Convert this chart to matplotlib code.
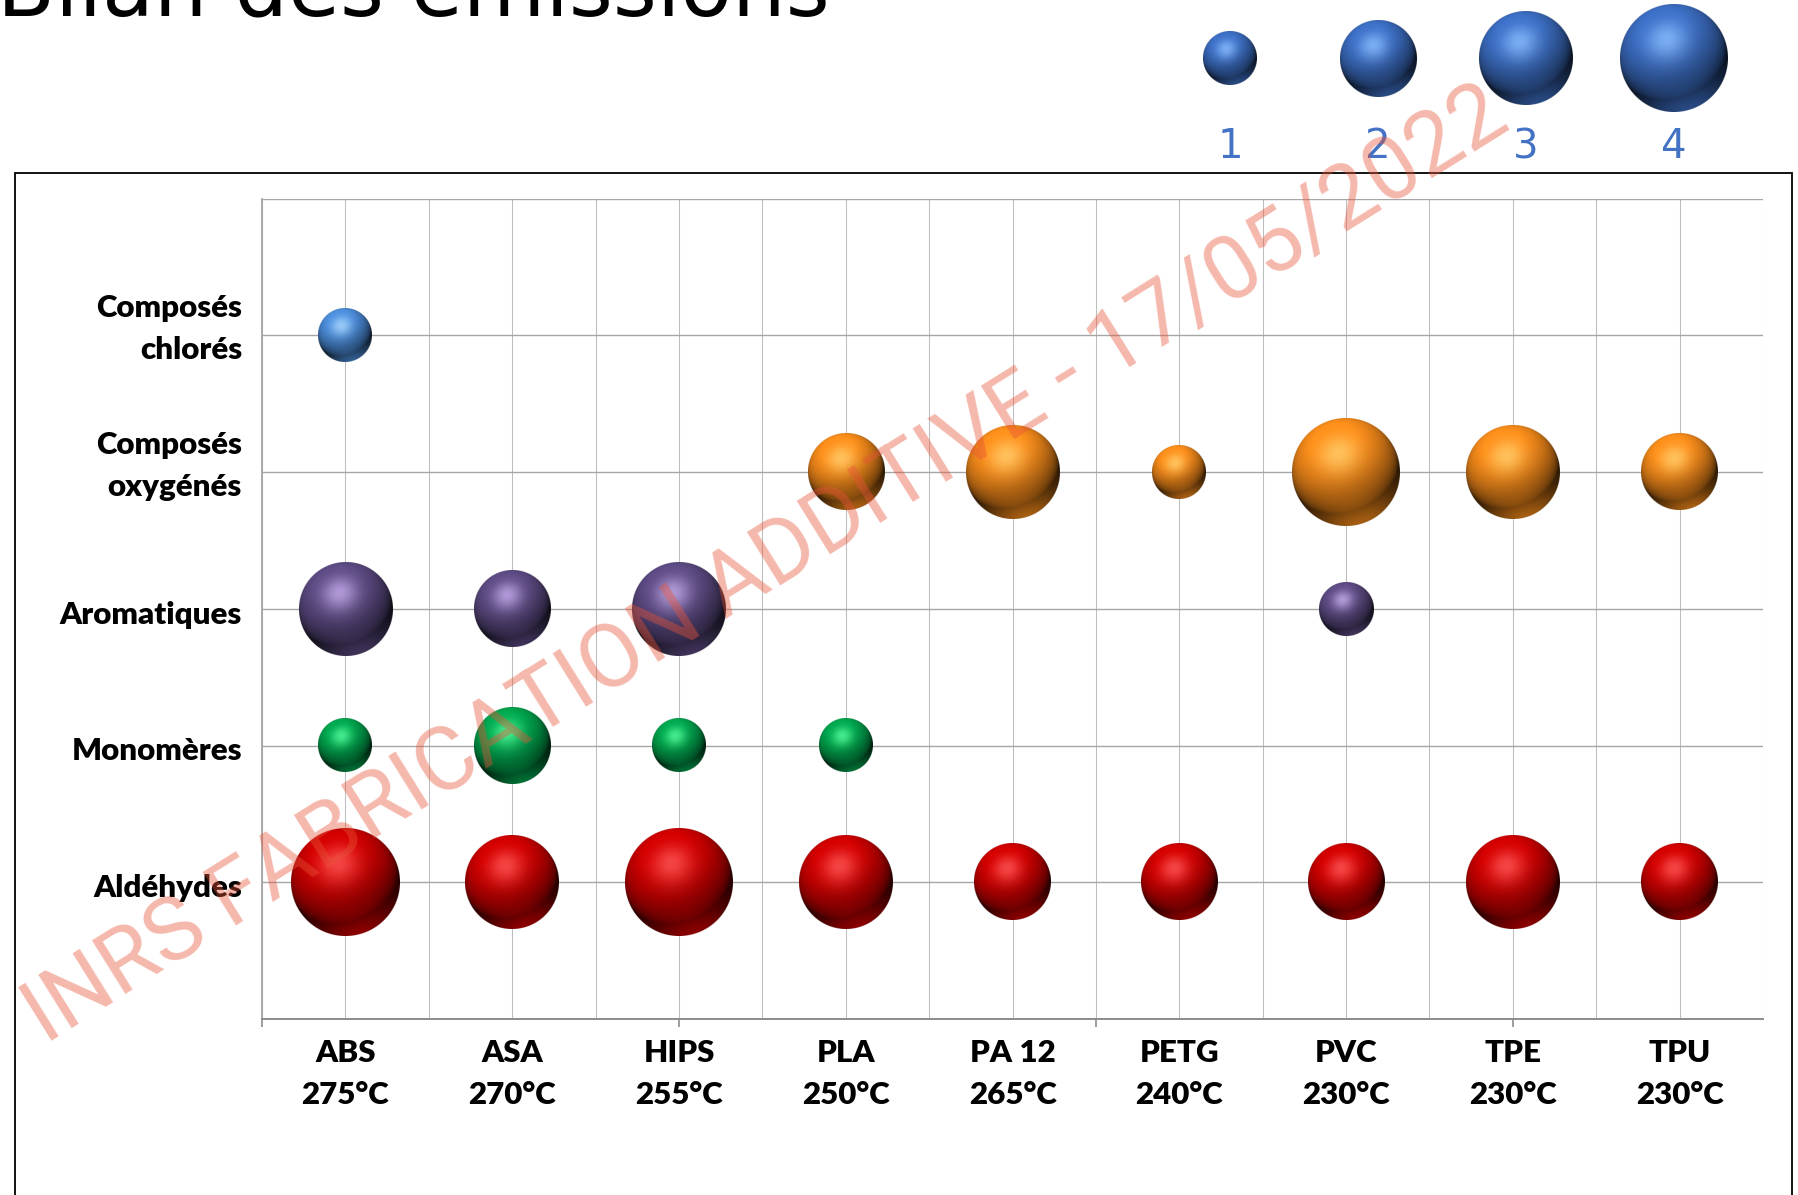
import numpy as np
import matplotlib
matplotlib.use("Agg")
import matplotlib.pyplot as plt
from matplotlib.colors import to_rgb
from matplotlib.patches import Rectangle
from matplotlib.font_manager import FontProperties
from matplotlib.transforms import offset_copy

# ---------------------------------------------------------------- data
materials = ["ABS", "ASA", "HIPS", "PLA", "PA 12", "PETG", "PVC", "TPE", "TPU"]
temperatures = ["275°C", "270°C", "255°C", "250°C", "265°C",
                "240°C", "230°C", "230°C", "230°C"]
families = ["Aldéhydes", "Monomères", "Aromatiques",
            "Composés\noxygénés", "Composés\nchlorés"]

# emission level (1..4) per material, 0 = not detected
aldehydes   = [4, 3, 4, 3, 2, 2, 2, 3, 2]
monomeres   = [1, 2, 1, 1, 0, 0, 0, 0, 0]
aromatiques = [3, 2, 3, 0, 0, 0, 1, 0, 0]
oxygenes    = [0, 0, 0, 2, 3, 1, 4, 3, 2]
chlores     = [1, 0, 0, 0, 0, 0, 0, 0, 0]

legend_levels = [1, 2, 3, 4]

title = "Bilan des émissions"
watermark = "INRS FABRICATION ADDITIVE - 17/05/2022"

# ---------------------------------------------------------------- style
series = [aldehydes, monomeres, aromatiques, oxygenes, chlores]
# (body colour, highlight colour) for each family
sphere_colors = [
    ("#cc0000", "#ff5a5a"),
    ("#00a24c", "#5cffa0"),
    ("#5c4a82", "#c8b0ee"),
    ("#f58a1a", "#ffd070"),
    ("#4a8ad6", "#b0dcff"),
]
legend_color = ("#3b6cc0", "#8ec0ff")
BUBBLE_PX = 27.0          # radius in pixels for level 1 (area ~ level)
LABEL_FONT = dict(fontfamily="Lato", fontweight="heavy", fontsize=22.5)

W, H, DPI = 1799, 1195, 100
fig = plt.figure(figsize=(W / DPI, H / DPI), dpi=DPI)
fig.patch.set_facecolor("white")


def fx(px):
    return px / W


def fy(py):
    return 1 - py / H


def unit(a):
    a = np.asarray(a, float)
    return a / np.linalg.norm(a)


def sphere_rgba(base, light, diam_px, ss=4):
    """Shaded glossy sphere as an RGBA array."""
    n = max(int(np.ceil(diam_px * ss)), 8)
    base = np.array(to_rgb(base))
    light = np.array(to_rgb(light))
    c = (np.arange(n) + 0.5) / n * 2 - 1
    u, v = np.meshgrid(c, -c)
    r = np.hypot(u, v)
    z = np.sqrt(np.clip(1 - r * r, 0, None))
    L = unit([-0.26, 0.65, 0.73])
    Hv = unit(L + np.array([0, 0, 1.0]))
    diff = np.clip(u * L[0] + v * L[1] + z * L[2], 0, 1)
    spec = np.clip(u * Hv[0] + v * Hv[1] + z * Hv[2], 0, 1) ** 14
    B = unit([0.25, -0.9, 0.25])
    bounce = np.clip(u * B[0] + v * B[1] + z * B[2], 0, 1) ** 3
    shade = 0.18 + 0.92 * diff ** 0.7
    col = base * np.clip(shade, 0, 1.05)[..., None]
    col = col + (base - col) * (0.6 * bounce)[..., None]
    col = col + (light - col) * (0.75 * spec)[..., None]
    col = np.clip(col, 0, 1)
    alpha = np.clip((1 - r) * n / 2 + 0.5, 0, 1)
    return np.dstack([col, alpha])


def draw_bubble(axes, x, y, level, colors, zorder=3):
    """Place a sphere of area proportional to level at data point (x, y)."""
    rad = BUBBLE_PX * np.sqrt(level)
    cx, cy = axes.transData.transform((x, y))
    inv = axes.transData.inverted()
    x0, y0 = inv.transform((cx - rad, cy - rad))
    x1, y1 = inv.transform((cx + rad, cy + rad))
    img = sphere_rgba(colors[0], colors[1], 2 * rad)
    axes.imshow(img, extent=(x0, x1, y0, y1), origin="upper",
                aspect="auto", interpolation="antialiased", zorder=zorder)


# ---------------------------------------------------------------- main axes
ax = fig.add_axes([fx(262), fy(1019), (1763 - 262) / W, (1019 - 198.5) / H])
ax.set_xlim(0.5, len(materials) + 0.5)
ax.set_ylim(0, len(families) + 1)
ax.set_autoscale_on(False)

xcat = np.arange(1, len(materials) + 1)
ycat = np.arange(1, len(families) + 1)

ax.set_xticks(xcat)
ax.set_xticks(np.arange(0.5, len(materials) + 0.51, 0.5), minor=True)
ax.set_xticklabels([])
ax.tick_params(axis="x", which="both", length=0)
ax.set_yticks(np.arange(0, len(families) + 2))
ax.set_yticklabels([])
ax.tick_params(axis="y", which="both", length=0)

ax.grid(axis="x", which="both", color="#bdbdbd", lw=0.75, zorder=0)
ax.grid(axis="y", which="major", color="#a6a6a6", lw=1.0, zorder=0)
ax.set_axisbelow(True)
for s in ("top", "right"):
    ax.spines[s].set_visible(False)
ax.spines["left"].set_color("#a0a0a0")
ax.spines["left"].set_linewidth(1.2)
ax.spines["bottom"].set_color("#8c8c8c")
ax.spines["bottom"].set_linewidth(1.4)

# small tick marks on the category axis
sec = ax.secondary_xaxis("bottom")
sec.set_xticks([0.5, 3.0, 5.5, 8.0])
sec.set_xticklabels([])
sec.tick_params(length=6, width=1.2, color="#8c8c8c")
sec.spines["bottom"].set_visible(False)

# family labels, right-aligned left of the plot area
for y, fam in zip(ycat, families):
    two_lines = "\n" in fam
    tr = offset_copy(ax.get_yaxis_transform(), fig=fig,
                     x=-20, y=(6 if two_lines else -6), units="dots")
    ax.text(0, y, fam, transform=tr, ha="right", va="center",
            linespacing=1.6, clip_on=False, **LABEL_FONT)

# category labels: material name + printing temperature
lab_tr = offset_copy(ax.get_xaxis_transform(), fig=fig, y=-20, units="dots")
for x, name, temp in zip(xcat, materials, temperatures):
    ax.text(x, 0, f"{name}\n{temp}", transform=lab_tr, ha="center", va="top",
            linespacing=1.6, clip_on=False, **LABEL_FONT)

# bubbles
for yv, vals, colors in zip(ycat, series, sphere_colors):
    for xv, val in zip(xcat, vals):
        if val > 0:
            draw_bubble(ax, xv, yv, val, colors)

# ---------------------------------------------------------------- size legend
lax = fig.add_axes([fx(1156), fy(180), 592 / W, 180 / H])
lax.set_xlim(0.5, len(legend_levels) + 0.5)
lax.set_ylim(0, 1)
lax.set_autoscale_on(False)
lax.axis("off")
for i, lvl in enumerate(legend_levels, start=1):
    draw_bubble(lax, i, 0.675, lvl, legend_color)
    lax.text(i, 0.183, str(lvl), ha="center", va="center",
             fontfamily="DejaVu Sans", fontsize=29, color="#4472c4")

# ---------------------------------------------------------------- frame
frame = Rectangle((fx(15), -0.1), fx(1792) - fx(15), fy(173) + 0.1,
                  transform=fig.transFigure, fill=False, ec="black",
                  lw=1.3, clip_on=False)
fig.add_artist(frame)

# ---------------------------------------------------------------- title
renderer = fig.canvas.get_renderer()
fp = FontProperties(family="DejaVu Sans", size=60)
tw, _, _ = renderer.get_text_width_height_descent(title, fp, ismath=False)
fig.text(fx(-3), fy(15), title, ha="left", va="baseline",
         fontfamily="DejaVu Sans", fontsize=60 * 835 / tw, color="black")

# ---------------------------------------------------------------- watermark
fpw = FontProperties(family="Roboto", size=60)
ww, _, _ = renderer.get_text_width_height_descent(watermark, fpw, ismath=False)
fig.text(fx(45), fy(1045), watermark, ha="left", va="baseline",
         rotation=32, rotation_mode="anchor",
         fontfamily="Roboto", fontsize=60 * 1730 / ww,
         color=(0.91, 0.33, 0.22), alpha=0.42, zorder=10)

fig.savefig("out.png", dpi=DPI, facecolor="white")
